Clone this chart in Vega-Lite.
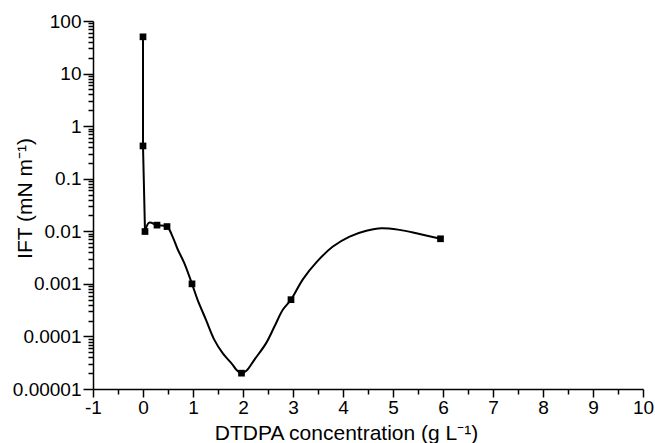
{
  "$schema": "https://vega.github.io/schema/vega-lite/v6.json",
  "width": 550,
  "height": 368,
  "autosize": "none",
  "padding": {"left": 93, "top": 21, "right": 12, "bottom": 54},
  "background": "white",
  "config": {
    "view": {"stroke": null},
    "axis": {
      "labelFont": "Liberation Sans",
      "titleFont": "Liberation Sans",
      "labelFontSize": 19,
      "titleFontSize": 21,
      "titleFontWeight": "normal",
      "labelColor": "black",
      "titleColor": "black",
      "domainColor": "black",
      "tickColor": "black",
      "grid": false,
      "domainWidth": 1.5,
      "tickWidth": 1.5
    }
  },
  "datasets": {
    "curve": [
      {"part": "a", "i": 1, "x": 0, "y": 50},
      {"part": "a", "i": 2, "x": 0, "y": 0.42},
      {"part": "a", "i": 3, "x": 0.04, "y": 0.0099},
      {"part": "b", "i": 3, "x": 0.04, "y": 0.0099},
      {"part": "b", "i": 4, "x": 0.124, "y": 0.0146},
      {"part": "b", "i": 5, "x": 0.28, "y": 0.0131},
      {"part": "b", "i": 6, "x": 0.48, "y": 0.0123},
      {"part": "b", "i": 7, "x": 0.591, "y": 0.00793},
      {"part": "b", "i": 8, "x": 0.691, "y": 0.0046},
      {"part": "b", "i": 9, "x": 0.826, "y": 0.00248},
      {"part": "b", "i": 10, "x": 0.98, "y": 0.001},
      {"part": "b", "i": 11, "x": 1.092, "y": 0.000497},
      {"part": "b", "i": 12, "x": 1.26, "y": 0.000207},
      {"part": "b", "i": 13, "x": 1.427, "y": 0.0000861},
      {"part": "b", "i": 14, "x": 1.593, "y": 0.0000481},
      {"part": "b", "i": 15, "x": 1.794, "y": 0.0000289},
      {"part": "b", "i": 16, "x": 1.868, "y": 0.0000232},
      {"part": "b", "i": 17, "x": 1.97, "y": 0.00002},
      {"part": "b", "i": 18, "x": 2.068, "y": 0.0000222},
      {"part": "b", "i": 19, "x": 2.226, "y": 0.0000359},
      {"part": "b", "i": 20, "x": 2.463, "y": 0.0000746},
      {"part": "b", "i": 21, "x": 2.629, "y": 0.000154},
      {"part": "b", "i": 22, "x": 2.796, "y": 0.000321},
      {"part": "b", "i": 23, "x": 2.96, "y": 0.0005},
      {"part": "b", "i": 24, "x": 3.2, "y": 0.00123},
      {"part": "b", "i": 25, "x": 3.48, "y": 0.00265},
      {"part": "b", "i": 26, "x": 3.798, "y": 0.00512},
      {"part": "b", "i": 27, "x": 4.132, "y": 0.00793},
      {"part": "b", "i": 28, "x": 4.467, "y": 0.0102},
      {"part": "b", "i": 29, "x": 4.768, "y": 0.01146},
      {"part": "b", "i": 30, "x": 5.134, "y": 0.01064},
      {"part": "b", "i": 31, "x": 5.469, "y": 0.0092},
      {"part": "b", "i": 32, "x": 5.95, "y": 0.0072}
    ],
    "pts": [
      {"x": 0, "y": 50},
      {"x": 0, "y": 0.42},
      {"x": 0.04, "y": 0.0099},
      {"x": 0.28, "y": 0.0131},
      {"x": 0.48, "y": 0.0123},
      {"x": 0.98, "y": 0.001},
      {"x": 1.97, "y": 0.00002},
      {"x": 2.96, "y": 0.0005},
      {"x": 5.95, "y": 0.0072}
    ]
  },
  "layer": [
    {
      "data": {"name": "curve"},
      "transform": [{"filter": "datum.part == 'a'"}],
      "mark": {"type": "line", "color": "black", "strokeWidth": 2},
      "encoding": {
        "x": {
          "field": "x", "type": "quantitative",
          "scale": {"domain": [-1, 10], "nice": false, "zero": false},
          "axis": {
            "orient": "bottom",
            "values": [-1, 0, 1, 2, 3, 4, 5, 6, 7, 8, 9, 10],
            "labelExpr": "datum.value < 0 ? '-' + abs(datum.value) : '' + datum.value",
            "tickSize": 8,
            "labelPadding": 16,
            "labelBaseline": "alphabetic",
            "labelFlush": false,
            "labelOverlap": false,
            "title": "DTDPA concentration (g L⁻¹)",
            "titleX": 253,
            "titleY": 50,
            "titleBaseline": "alphabetic"
          }
        },
        "y": {
          "field": "y", "type": "quantitative",
          "scale": {"type": "log", "domain": [0.00001, 100], "nice": false},
          "axis": {
            "orient": "left",
            "values": [100, 10, 1, 0.1, 0.01, 0.001, 0.0001, 0.00001],
            "format": ".5~f",
            "tickSize": 10,
            "labelPadding": 2,
            "labelFlush": false,
            "labelOverlap": false,
            "title": "IFT (mN m⁻¹)",
            "titleX": -68,
            "titleY": 177,
            "titleBaseline": "middle"
          }
        },
        "order": {"field": "i", "type": "quantitative"}
      }
    },
    {
      "data": {"name": "curve"},
      "transform": [{"filter": "datum.part == 'b'"}],
      "mark": {"type": "line", "color": "black", "strokeWidth": 2, "interpolate": "catmull-rom"},
      "encoding": {
        "x": {
          "field": "x", "type": "quantitative",
          "axis": {
            "orient": "bottom",
            "values": [-0.5, 0.5, 1.5, 2.5, 3.5, 4.5, 5.5, 6.5, 7.5, 8.5, 9.5],
            "tickSize": 5,
            "labels": false,
            "domain": false,
            "title": null
          }
        },
        "y": {
          "field": "y", "type": "quantitative",
          "axis": {
            "orient": "left",
            "values": [0.00002, 0.00003, 0.00004, 0.00005, 0.00006, 0.00007, 0.00008, 0.00009,
                       0.0002, 0.0003, 0.0004, 0.0005, 0.0006, 0.0007, 0.0008, 0.0009,
                       0.002, 0.003, 0.004, 0.005, 0.006, 0.007, 0.008, 0.009,
                       0.02, 0.03, 0.04, 0.05, 0.06, 0.07, 0.08, 0.09,
                       0.2, 0.3, 0.4, 0.5, 0.6, 0.7, 0.8, 0.9,
                       2, 3, 4, 5, 6, 7, 8, 9,
                       20, 30, 40, 50, 60, 70, 80, 90],
            "tickSize": 5,
            "labels": false,
            "domain": false,
            "title": null
          }
        },
        "order": {"field": "i", "type": "quantitative"}
      }
    },
    {
      "data": {"name": "pts"},
      "mark": {"type": "square", "color": "black", "filled": true, "opacity": 1, "size": 45},
      "encoding": {
        "x": {"field": "x", "type": "quantitative", "axis": null},
        "y": {"field": "y", "type": "quantitative", "axis": null}
      }
    }
  ],
  "resolve": {"axis": {"x": "independent", "y": "independent"}}
}
